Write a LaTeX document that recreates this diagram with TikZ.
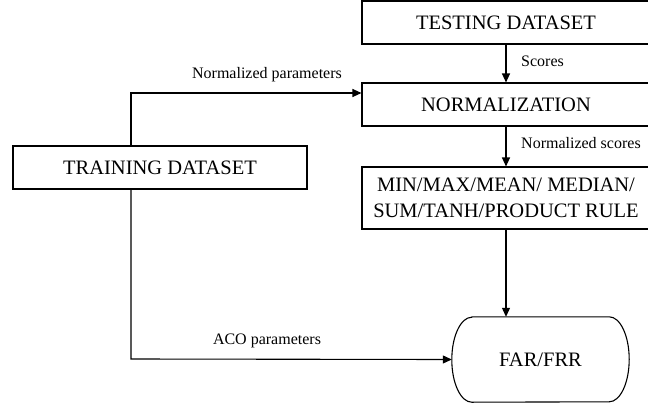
\documentclass[tikz,border=0pt]{standalone}
\usepackage{fontspec}
\setmainfont{Liberation Serif}
\usetikzlibrary{arrows.meta,calc}
\begin{document}
\begin{tikzpicture}[x=1pt,y=-1pt,
  box/.style={draw,line width=1.1pt,inner sep=0pt,
    font=\fontsize{20.5}{26.5}\selectfont,align=center},
  lbl/.style={font=\fontsize{16}{18}\selectfont,inner sep=0pt},
  flow/.style={line width=1.1pt,-{Triangle[length=9pt,width=8pt]}}]
\useasboundingbox (0,0) rectangle (648,407);

% processing chain on the right
\node[box,minimum width=288,minimum height=43] (test) at (506,22.5) {TESTING DATASET};
\node[box,minimum width=288,minimum height=43] (norm) at (506,104.5) {NORMALIZATION};
\node[box,minimum width=288,minimum height=62] (rule) at (506,198)
  {MIN/MAX/MEAN/ MEDIAN/\\SUM/TANH/PRODUCT RULE};

% result node with elliptic ends
\node[inner sep=0pt,minimum width=177,minimum height=85,
  font=\fontsize{20.5}{23}\selectfont] (far) at (540.5,359.5) {FAR/FRR};
\draw[line width=1.1pt] ($(far.north west)+(20,0)$) -- ($(far.north east)+(-20,0)$)
  arc[start angle=90,end angle=-90,x radius=20,y radius=-42.5]
  -- ($(far.south west)+(20,0)$)
  arc[start angle=270,end angle=90,x radius=20,y radius=-42.5] -- cycle;

% training data on the left
\node[box,minimum width=294,minimum height=43] (train) at (160,167.5) {TRAINING DATASET};

\coordinate (tp) at (131,93);
\coordinate (bp) at (131,359);

\draw[flow] (test) -- (norm);
\draw[flow] (norm) -- (rule);
\draw[flow] (rule.south) -- (rule.south |- far.north);
\draw[flow] (train.north -| tp) -- (tp) -- (norm.west |- tp);
\draw[flow] (train.south -| bp) -- (bp) -- (far.west);

\node[lbl,anchor=west] (lsc) at (521,61) {Scores};
\node[lbl,anchor=west] (lns) at (521,143) {Normalized scores};
\node[lbl] (lnp) at (267,75) {Normalized parameters};
\node[lbl] (laco) at (267,341) {ACO parameters};
\end{tikzpicture}
\end{document}
